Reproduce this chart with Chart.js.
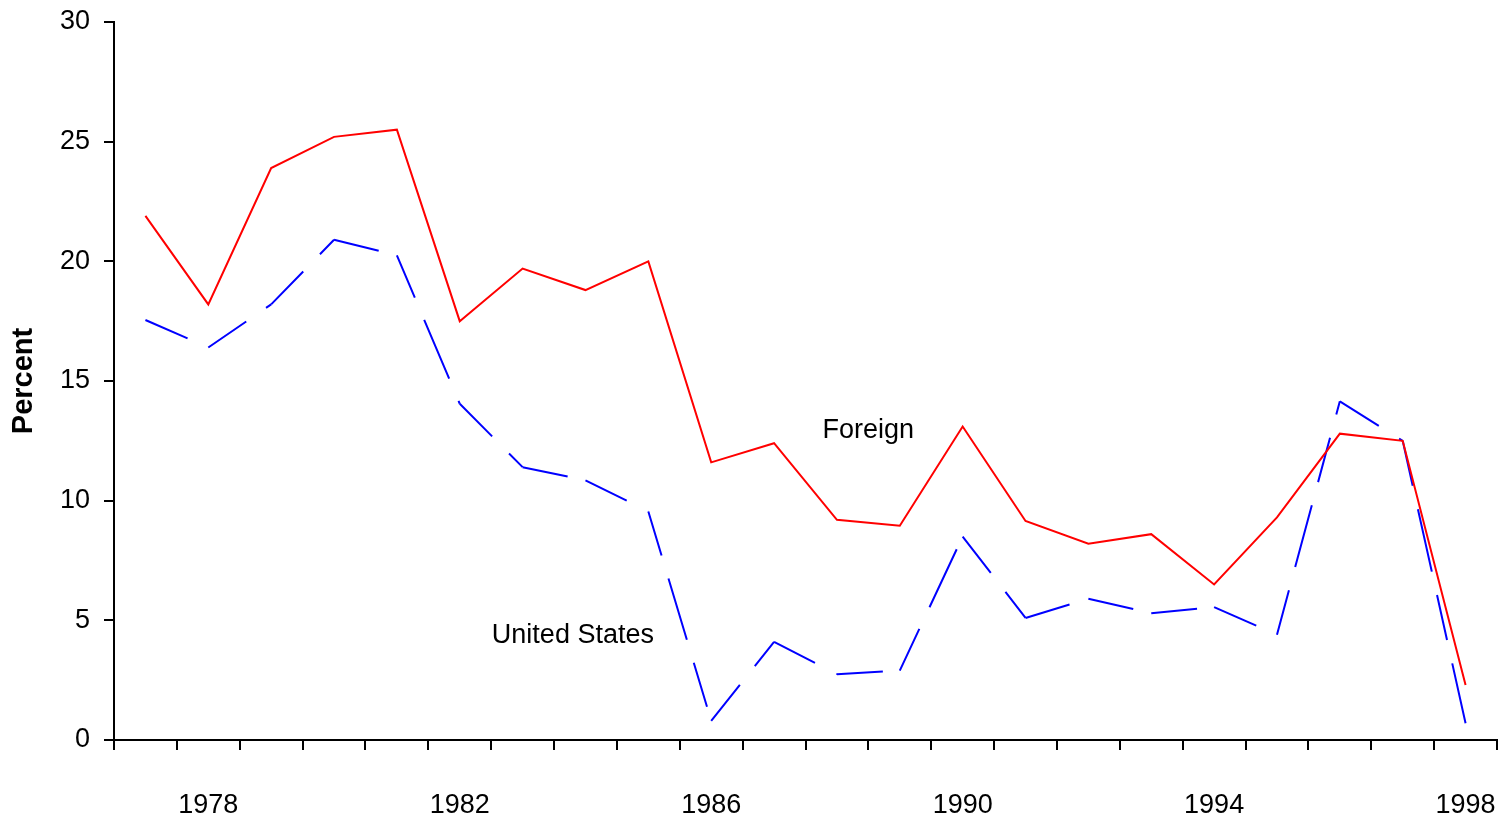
<!DOCTYPE html>
<html>
<head>
<meta charset="utf-8">
<script src="https://cdn.jsdelivr.net/npm/chart.js@4.4.1/dist/chart.umd.min.js"></script>
<style>
  html, body { margin: 0; padding: 0; background: #ffffff; }
  #wrap { width: 1509px; height: 824px; position: relative; }
</style>
</head>
<body>
<div id="wrap"><canvas id="c"></canvas></div>
<script>
// ---- data ----
const years = ['1977','1978','1979','1980','1981','1982','1983','1984','1985','1986','1987',
               '1988','1989','1990','1991','1992','1993','1994','1995','1996','1997','1998'];
const tickLabels = ['1978','1982','1986','1990','1994','1998'];
const yTicks = [0, 5, 10, 15, 20, 25, 30];
const foreign = [21.9, 18.2, 23.9, 25.2, 25.5, 17.5, 19.7, 18.8, 20.0, 11.6, 12.4,
                 9.2, 8.95, 13.1, 9.15, 8.2, 8.6, 6.5, 9.3, 12.8, 12.5, 2.3];
const unitedStates = [17.55, 16.4, 18.2, 20.9, 20.25, 14.05, 11.4, 10.85, 9.55, 0.8, 4.1,
                      2.75, 2.9, 8.5, 5.1, 5.9, 5.3, 5.55, 4.4, 14.15, 12.5, 0.7];
const seriesNames = ['Foreign', 'United States'];

const FONT = "'Liberation Sans', Arial, sans-serif";

// text labels placed next to the lines (category index, value)
const lineLabels = {
  id: 'lineLabels',
  afterDatasetsDraw(chart) {
    const {ctx, scales: {x, y}} = chart;
    const items = [
      {text: seriesNames[0], xv: 11.5, yv: 12.95},
      {text: seriesNames[1], xv: 6.8, yv: 4.35}
    ];
    ctx.save();
    ctx.font = "27px " + FONT;
    ctx.fillStyle = '#000000';
    ctx.textAlign = 'center';
    ctx.textBaseline = 'middle';
    items.forEach(it => ctx.fillText(it.text, x.getPixelForValue(it.xv), y.getPixelForValue(it.yv)));
    ctx.restore();
  }
};

function noAutoPadding(scale) {
  scale.paddingLeft = 0;
  scale.paddingRight = 0;
  scale.paddingTop = 0;
  scale.paddingBottom = 0;
}

new Chart(document.getElementById('c'), {
  type: 'line',
  data: {
    labels: years,
    datasets: [
      {
        label: seriesNames[0],
        data: foreign,
        borderColor: '#ff0000',
        borderWidth: 2,
        pointRadius: 0,
        tension: 0,
        fill: false
      },
      {
        label: seriesNames[1],
        data: unitedStates,
        borderColor: '#0000ff',
        borderWidth: 2,
        pointRadius: 0,
        tension: 0,
        fill: false,
        borderDash: [46, 24, 64, 24],
        segment: {
          // restart the dash pattern at every data point
          borderDash: ctx => (ctx.p0DataIndex % 2 ? [46, 24, 64, 24.001] : [46, 24, 64, 24])
        }
      }
    ]
  },
  options: {
    responsive: true,
    maintainAspectRatio: false,
    animation: false,
    events: [],
    layout: { autoPadding: false, padding: { left: 0, right: 12, top: 22, bottom: 0 } },
    plugins: {
      legend: { display: false },
      tooltip: { enabled: false },
      title: { display: false }
    },
    scales: {
      x: {
        type: 'category',
        offset: true,
        grid: {
          offset: true,
          drawOnChartArea: false,
          drawTicks: true,
          tickLength: 10,
          color: '#000000',
          lineWidth: 2
        },
        border: { display: true, color: '#000000', width: 2 },
        ticks: {
          autoSkip: false,
          maxRotation: 0,
          minRotation: 0,
          padding: 39,
          color: '#000000',
          font: { family: FONT, size: 27 },
          callback: function(value, index) {
            const lab = years[index];
            return tickLabels.includes(lab) ? lab : '';
          }
        },
        afterFit(scale) { scale.height = 84; noAutoPadding(scale); }
      },
      y: {
        min: 0,
        max: 30,
        afterBuildTicks(scale) { scale.ticks = yTicks.map(v => ({value: v})); },
        grid: {
          drawOnChartArea: false,
          drawTicks: true,
          tickLength: 10,
          color: '#000000',
          lineWidth: 2
        },
        border: { display: true, color: '#000000', width: 2 },
        ticks: {
          padding: 14,
          color: '#000000',
          font: { family: FONT, size: 27 }
        },
        title: {
          display: true,
          text: 'Percent',
          color: '#000000',
          font: { family: FONT, size: 29, weight: 'bold' },
          padding: { top: 7, bottom: 0 }
        },
        afterFit(scale) { scale.width = 114; noAutoPadding(scale); }
      }
    }
  },
  plugins: [lineLabels]
});
</script>
</body>
</html>
